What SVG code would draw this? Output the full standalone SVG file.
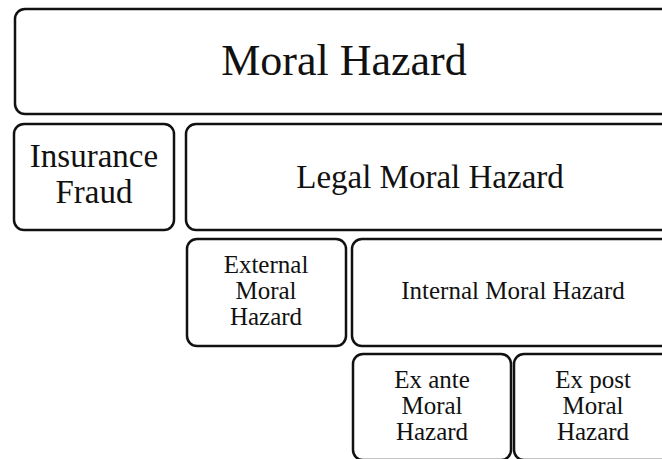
<svg xmlns="http://www.w3.org/2000/svg" width="662" height="459" viewBox="0 0 662 459">
<style>
.box{fill:#fff;stroke:#111;stroke-width:2.5}
text{font-family:"Liberation Serif","Times New Roman",serif;fill:#111;text-anchor:middle}
.t1{font-size:44px}
.t2{font-size:33px}
.t3{font-size:25px}
</style>
<rect width="662" height="459" fill="#fff"/>
<g id="moral-hazard"><rect class="box" x="15" y="9" width="660" height="105" rx="10"/><text class="t1" x="344" y="75">Moral Hazard</text></g>
<g id="insurance-fraud"><rect class="box" x="14" y="124" width="160" height="106" rx="10"/><text class="t2" x="94" y="167">Insurance</text><text class="t2" x="94" y="203">Fraud</text></g>
<g id="legal-moral-hazard"><rect class="box" x="186" y="124" width="489" height="106" rx="10"/><text class="t2" x="430" y="188">Legal Moral Hazard</text></g>
<g id="external-moral-hazard"><rect class="box" x="187" y="239" width="159" height="107" rx="10"/><text class="t3" x="266" y="273">External</text><text class="t3" x="266" y="299">Moral</text><text class="t3" x="266" y="325">Hazard</text></g>
<g id="internal-moral-hazard"><rect class="box" x="352" y="239" width="323" height="107" rx="10"/><text class="t3" x="513" y="299">Internal Moral Hazard</text></g>
<g id="ex-ante"><rect class="box" x="353" y="354" width="158" height="106" rx="10"/><text class="t3" x="432" y="388">Ex ante</text><text class="t3" x="432" y="414">Moral</text><text class="t3" x="432" y="440">Hazard</text></g>
<g id="ex-post"><rect class="box" x="514" y="354" width="158" height="106" rx="10"/><text class="t3" x="593" y="388">Ex post</text><text class="t3" x="593" y="414">Moral</text><text class="t3" x="593" y="440">Hazard</text></g>
<g id="connectors"></g>
</svg>
